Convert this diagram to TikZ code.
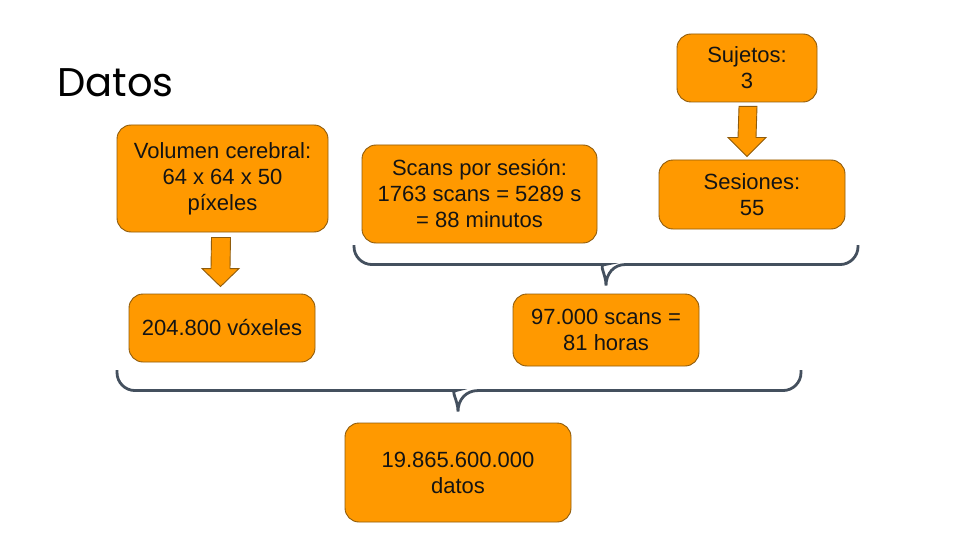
\documentclass[tikz,border=0pt]{standalone}
\usepackage{fontspec}
\setmainfont{Liberation Sans}
\newfontfamily\titlefont{Poppins}
\usepackage{xcolor}
\usetikzlibrary{calc,positioning}

\definecolor{boxfill}{HTML}{FF9900}
\definecolor{boxline}{HTML}{8F5B0B}
\definecolor{braceline}{HTML}{44505E}
\definecolor{txt}{HTML}{141414}

\begin{document}
\begin{tikzpicture}[
    x=1pt, y=-1pt,
    font=\fontsize{22}{26}\selectfont,
    box/.style={rectangle, draw=boxline, fill=boxfill, line width=0.9pt, rounded corners=14pt, align=center, text=txt, inner sep=0pt},
    blkarrow/.style={draw=boxline, fill=boxfill, line width=0.9pt, line join=miter},
    brace/.style={draw=braceline, line width=2.8pt}
]
    \useasboundingbox (0,0) rectangle (960,540);

    % Title
    \node[anchor=base west, inner sep=0pt, font=\titlefont\fontsize{40}{44}\selectfont] (title) at (57,97) {Datos};

    % Node layout
    \node[box, minimum width=211pt, minimum height=107pt] (vol) at (222.5,178.5) {Volumen cerebral:\\64 x 64 x 50\\píxeles};
    \node[box, minimum width=186pt, minimum height=68pt] (vox) at (222,328) {204.800 vóxeles};
    \node[box, minimum width=235pt, minimum height=98pt] (scans) at (479.5,194) {Scans por sesión:\\1763 scans = 5289 s\\= 88 minutos};
    \node[box, minimum width=140pt, minimum height=68pt] (suj) at (747,68) {Sujetos:\\3};
    \node[box, minimum width=186pt, minimum height=69pt] (ses) at (752,194.5) {Sesiones:\\55};
    \node[box, minimum width=186pt, minimum height=72pt] (res) at (606,330) {97.000 scans =\\81 horas};
    \node[box, minimum width=226pt, minimum height=99pt] (datos) at (458,472.5) {19.865.600.000\\datos};

    % Block arrows
    \coordinate (a1) at ($(vol.south)+(-1.5,5)$);
    \coordinate (t1) at ($(vox.north)+(-1.5,-7)$);
    \draw[blkarrow] ($(a1)+(-9.5,0)$) -- ($(a1)+(9.5,0)$) -- ($(t1)+(9.5,-18)$) -- ($(t1)+(18.5,-18)$)
        -- (t1) -- ($(t1)+(-18.5,-18)$) -- ($(t1)+(-9.5,-18)$) -- cycle;

    \coordinate (a2) at ($(suj.south)+(1,4)$);
    \coordinate (t2) at ($(ses.north)+(-5,-3)$);
    \draw[blkarrow] ($(a2)+(-9,0)$) -- ($(a2)+(9,0)$) -- ($(t2)+(9,-19)$) -- ($(t2)+(19,-19)$)
        -- (t2) -- ($(t2)+(-19,-19)$) -- ($(t2)+(-9,-19)$) -- cycle;

    % Braces
    \coordinate (tb-l) at (354,245);
    \coordinate (tb-r) at (858,245);
    \coordinate (tb-tip) at ($(res.north)+(0,-8)$);
    \draw[brace] (tb-l) [rounded corners=18pt] |- ($(tb-tip)+(-19,-21)$) [sharp corners]
        .. controls +(11,0) and +(0,-12) .. (tb-tip)
        .. controls +(0,-12) and +(-11,0) .. ($(tb-tip)+(19,-21)$) [rounded corners=18pt] -| (tb-r);

    \coordinate (bb-l) at (117,370);
    \coordinate (bb-r) at (801,370);
    \coordinate (bb-tip) at ($(datos.north)+(0,-11)$);
    \draw[brace] (bb-l) [rounded corners=18pt] |- ($(bb-tip)+(-20,-21)$) [sharp corners]
        .. controls +(12,0) and +(0,-12) .. (bb-tip)
        .. controls +(0,-12) and +(-12,0) .. ($(bb-tip)+(20,-21)$) [rounded corners=18pt] -| (bb-r);
\end{tikzpicture}
\end{document}
